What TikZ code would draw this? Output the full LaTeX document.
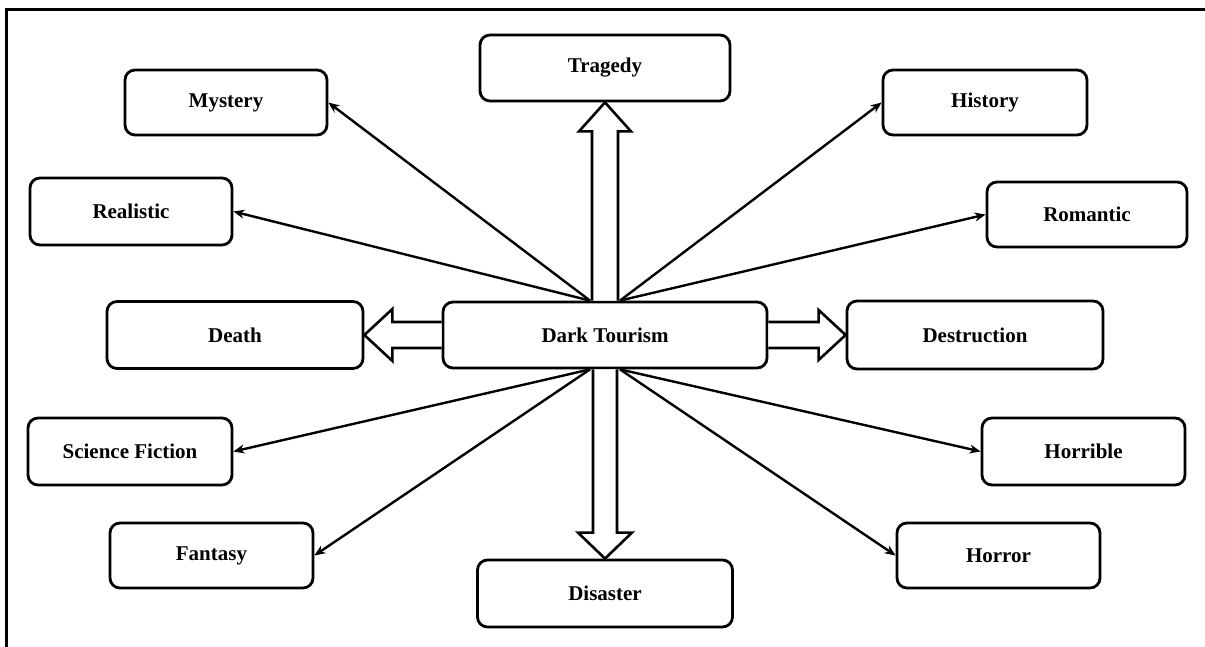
\documentclass[tikz,border=0pt]{standalone}
\usepackage{fontspec}
\setmainfont{Liberation Serif}
\usetikzlibrary{arrows.meta,calc}
\begin{document}
\begin{tikzpicture}[x=1pt,y=-1pt,
  box/.style={draw,line width=2.8pt,rounded corners=10pt,fill=white,
    font=\bfseries\fontsize{21}{25}\selectfont,inner sep=0pt},
  thinarrow/.style={line width=2.4pt,-{Stealth[length=11pt,width=9pt]}},
  block/.style={line width=2.6pt,fill=white,line join=miter}]
\useasboundingbox (0,0) rectangle (1205,647);
\draw[line width=3pt] (6,652) -- (6,10) -- (1210,10);

\node[box,minimum width=250pt,minimum height=66pt] (trag) at (605,68) {Tragedy};
\node[box,minimum width=202pt,minimum height=65pt] (myst) at (226,102.5) {Mystery};
\node[box,minimum width=202pt,minimum height=67pt] (real) at (131,211.5) {Realistic};
\node[box,minimum width=204pt,minimum height=65pt] (hist) at (985,102.5) {History};
\node[box,minimum width=200pt,minimum height=65pt] (roma) at (1087,214.5) {Romantic};
\node[box,minimum width=256pt,minimum height=67pt] (death) at (235,335) {Death};
\node[box,minimum width=324pt,minimum height=66pt] (dt) at (605,335) {Dark Tourism};
\node[box,minimum width=256pt,minimum height=68pt] (dest) at (975,335) {Destruction};
\node[box,minimum width=204pt,minimum height=67pt] (scifi) at (130,451.5) {Science Fiction};
\node[box,minimum width=203pt,minimum height=65pt] (fant) at (211.5,555.5) {Fantasy};
\node[box,minimum width=203pt,minimum height=67pt] (horb) at (1083.5,451.5) {Horrible};
\node[box,minimum width=203pt,minimum height=65pt] (horr) at (998.5,555.5) {Horror};
\node[box,minimum width=255pt,minimum height=67pt] (dis) at (605,593.5) {Disaster};

\coordinate (tl) at ([xshift=-15pt]dt.north);
\coordinate (tr) at ([xshift=15pt]dt.north);
\coordinate (bl) at ([xshift=-15pt]dt.south);
\coordinate (br) at ([xshift=15pt]dt.south);

\draw[thinarrow] (tl) -- (myst.east);
\draw[thinarrow] (tl) -- (real.east);
\draw[thinarrow] (tr) -- (hist.west);
\draw[thinarrow] (tr) -- (roma.west);
\draw[thinarrow] (bl) -- (scifi.east);
\draw[thinarrow] (bl) -- (fant.east);
\draw[thinarrow] (br) -- (horb.west);
\draw[thinarrow] (br) -- (horr.west);

% up block arrow to Tragedy
\draw[block] ([xshift=-13pt]dt.north) -- ([xshift=-13pt,yshift=-29pt]trag.south)
  -- ([xshift=-26pt,yshift=-29pt]trag.south) -- (trag.south)
  -- ([xshift=26pt,yshift=-29pt]trag.south) -- ([xshift=13pt,yshift=-29pt]trag.south)
  -- ([xshift=13pt]dt.north);
% down block arrow to Disaster
\draw[block] ([xshift=-12pt]dt.south) -- ([xshift=-12pt,yshift=26pt]dis.north)
  -- ([xshift=-27pt,yshift=26pt]dis.north) -- (dis.north)
  -- ([xshift=27pt,yshift=26pt]dis.north) -- ([xshift=12pt,yshift=26pt]dis.north)
  -- ([xshift=12pt]dt.south);
% left block arrow to Death
\draw[block] ([yshift=13pt]dt.west) -- ([xshift=28pt,yshift=13pt]death.east)
  -- ([xshift=28pt,yshift=26pt]death.east) -- (death.east)
  -- ([xshift=28pt,yshift=-26pt]death.east) -- ([xshift=28pt,yshift=-13pt]death.east)
  -- ([yshift=-13pt]dt.west);
% right block arrow to Destruction
\draw[block] ([yshift=13pt]dt.east) -- ([xshift=-27pt,yshift=13pt]dest.west)
  -- ([xshift=-27pt,yshift=25pt]dest.west) -- (dest.west)
  -- ([xshift=-27pt,yshift=-25pt]dest.west) -- ([xshift=-27pt,yshift=-13pt]dest.west)
  -- ([yshift=-13pt]dt.east);
\end{tikzpicture}
\end{document}
